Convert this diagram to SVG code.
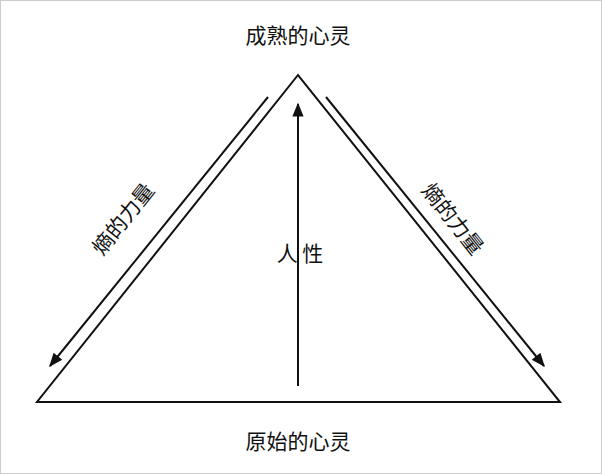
<svg xmlns="http://www.w3.org/2000/svg" width="602" height="474" viewBox="0 0 602 474">
<style>
text{font-family:"Noto Sans CJK SC","Noto Sans",sans-serif;font-size:21px;fill:#111;text-anchor:middle;dominant-baseline:central}
.l{stroke:#111;stroke-width:2;fill:none}
</style>
<defs><marker id="a" viewBox="0 0 10 10" refX="9" refY="5" markerWidth="7" markerHeight="7" markerUnits="strokeWidth" orient="auto"><path d="M0,1 L10,5 L0,9 Z" fill="#111"/></marker></defs>
<rect x="0.5" y="0.5" width="601" height="473" fill="#fff" stroke="#ccc"/>
<g id="triangle"><path class="l" d="M298,75 L37,402 L560,402 Z"/></g>
<g id="connectors">
<line class="l" x1="268" y1="97" x2="50" y2="366" marker-end="url(#a)"/>
<line class="l" x1="326" y1="97" x2="544" y2="366" marker-end="url(#a)"/>
<line class="l" x1="298" y1="386" x2="298" y2="104" marker-end="url(#a)"/>
</g>
<g id="top"><text x="298" y="34">成熟的心灵</text></g>
<g id="bottom"><text x="298" y="440">原始的心灵</text></g>
<g id="human"><text x="300" y="252">人 性</text></g>
<g id="left"><text transform="translate(122,218) rotate(-51.4)">熵的力量</text></g>
<g id="right"><text transform="translate(454,218) rotate(51.4)">熵的力量</text></g>
</svg>
